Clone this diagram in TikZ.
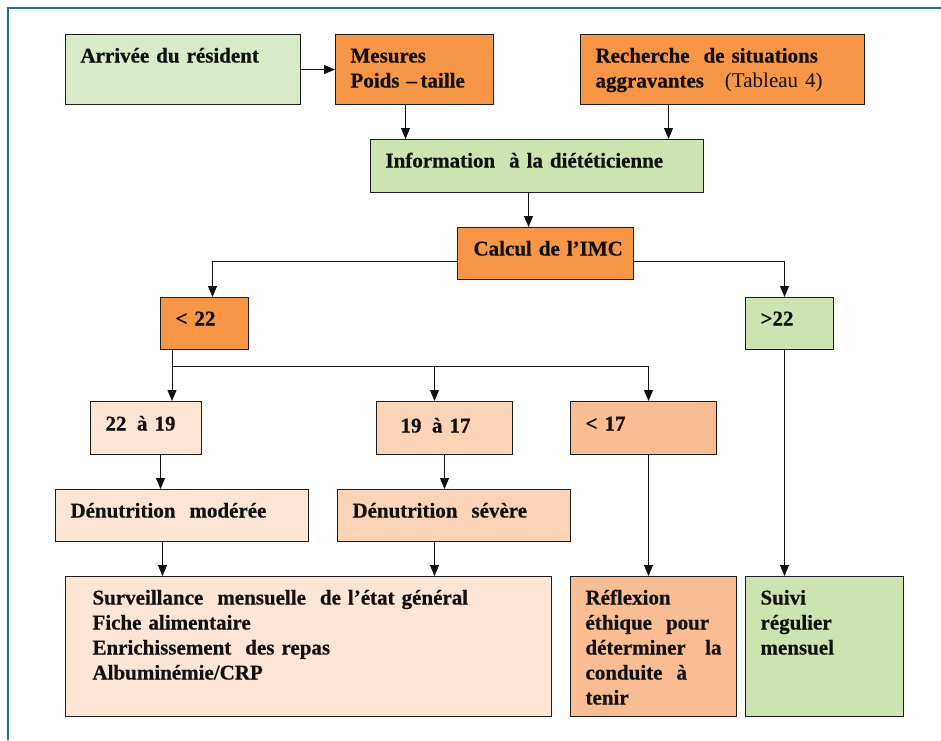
\documentclass[tikz,border=0pt]{standalone}
\usepackage{fontspec}
\setmainfont{Liberation Serif}[BoldFeatures={FakeBold=0.6}]
\usepackage{xcolor}
\usepackage{tikz}
\usetikzlibrary{arrows.meta, calc}

\definecolor{frameblue}{HTML}{23718F}
\definecolor{boxline}{HTML}{1E1E1E}
\definecolor{txt}{HTML}{111111}
\definecolor{lgreen}{HTML}{D9EAC8}
\definecolor{mgreen}{HTML}{CDE3B0}
\definecolor{orange}{HTML}{F79646}
\definecolor{peachA}{HTML}{FDE5D5}
\definecolor{peachB}{HTML}{FBD4B7}
\definecolor{peachC}{HTML}{F9BC93}

\tikzset{
    bx/.style={draw=boxline, line width=1pt, anchor=north west, align=left,
        inner xsep=15pt, inner ysep=0pt, text height=28pt, text=txt,
        font=\bfseries\fontsize{21}{25}\selectfont},
    sz/.style 2 args={text width=#1pt, text depth=#2pt},
    ar/.style={-{Triangle[length=11pt,width=9pt]}, line width=1pt, draw=txt},
    ln/.style={line width=1pt, draw=txt}
}

\begin{document}
\begin{tikzpicture}[x=1pt, y=-1pt]
    \useasboundingbox (0,0) rectangle (941,740);
    \draw[frameblue, line width=2pt] (8,740) -- (8,8) -- (941,8);

    \node[bx, fill=lgreen, sz={205}{42}] (arr) at (65,34) {Arrivée du résident};
    \node[bx, fill=orange, sz={128}{42}] (mes) at (335,34) {Mesures\\Poids --\,taille};
    \node[bx, fill=orange, sz={254}{42}] (rech) at (580,34) {Recherche~~de situations\\aggravantes~~~{\mdseries(Tableau 4)}};
    \node[bx, fill=mgreen, sz={303}{25}] (info) at (370,139) {Information~~à la diététicienne};
    \node[bx, fill=orange, sz={160}{24}, inner xsep=8pt] (calc) at (457,227) {\hspace*{8pt}Calcul de l’IMC};
    \node[bx, fill=orange, sz={58}{24}] (lt22) at (160,297) {< 22};
    \node[bx, fill=mgreen, sz={58}{24}] (gt22) at (745,297) {>22};
    \node[bx, fill=peachA, sz={81}{24}, text height=29pt] (r1) at (90,401) {22 \,à 19};
    \node[bx, fill=peachB, sz={88}{22}, text height=31pt, inner xsep=24pt] (r2) at (376,401) {19 \,à 17};
    \node[bx, fill=peachC, sz={116}{24}, text height=29pt] (r3) at (570,401) {< 17};
    \node[bx, fill=peachA, sz={223}{24}] (dm) at (55,489) {Dénutrition~~modérée};
    \node[bx, fill=peachB, sz={203}{24}] (ds) at (337,489) {Dénutrition~~sévère};
    \node[bx, fill=peachA, sz={432}{112}, inner xsep=27pt] (surv) at (65,576) {Surveillance~~mensuelle~~de l’état général\\Fiche alimentaire\\Enrichissement~~des repas\\Albuminémie/CRP};
    \node[bx, fill=peachC, sz={136}{112}] (refl) at (570,576) {Réflexion\\éthique~~pour\\déterminer\hfill la\\conduite~~à\\tenir};
    \node[bx, fill=mgreen, sz={128}{112}] (suivi) at (745,576) {Suivi\\régulier\\mensuel};

    \draw[ar] (arr.east) -- (mes.west);
    \draw[ar] ([xshift=-9pt]mes.south) -- ([xshift=-9pt]mes.south |- info.north);
    \draw[ar] ([xshift=-54pt]rech.south) -- ([xshift=-54pt]rech.south |- info.north);
    \draw[ar] ([xshift=-8.5pt]info.south) -- ([xshift=-8.5pt]info.south |- calc.north);
    \draw[ar] ([yshift=-8pt]calc.west) -| ([xshift=8pt]lt22.north);
    \draw[ar] ([yshift=-8pt]calc.east) -| ([xshift=-5pt]gt22.north);

    \coordinate (br) at (172,366);
    \draw[ln] (br |- lt22.south) -- (br);
    \draw[ar] (br) -- (br |- r1.north);
    \draw[ar] (br) -| ([xshift=-10pt]r2.north);
    \draw[ar] (br) -| ([xshift=5pt]r3.north);

    \draw[ar] ([xshift=14.5pt]r1.south) -- ([xshift=14.5pt]r1.south |- dm.north);
    \draw[ar] (r2.south) -- (r2.south |- ds.north);
    \draw[ar] ([xshift=-19.5pt]dm.south) -- ([xshift=-19.5pt]dm.south |- surv.north);
    \draw[ar] ([xshift=-19.5pt]ds.south) -- ([xshift=-19.5pt]ds.south |- surv.north);
    \draw[ar] ([xshift=5pt]r3.south) -- ([xshift=5pt]r3.south |- refl.north);
    \draw[ar] ([xshift=-5pt]gt22.south) -- ([xshift=-5pt]gt22.south |- suivi.north);
\end{tikzpicture}
\end{document}
